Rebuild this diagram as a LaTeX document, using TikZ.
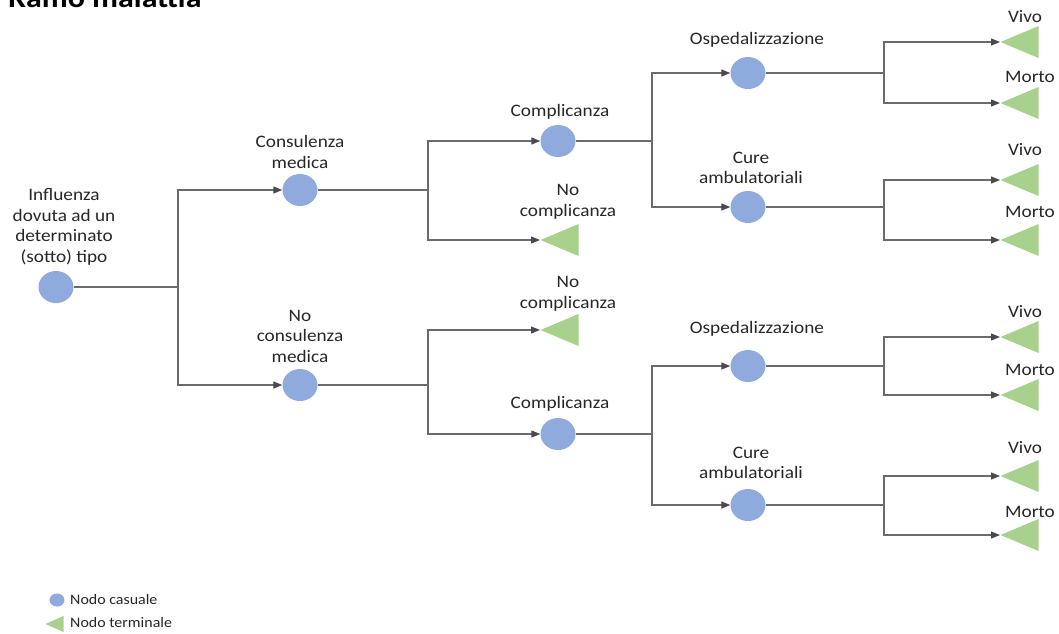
\documentclass[tikz,border=0pt]{standalone}
\usepackage{fontspec}
\setmainfont[FakeStretch=1.1]{Carlito}
\usetikzlibrary{arrows.meta,shapes.geometric}
\definecolor{nodeblue}{HTML}{8FAADC}
\definecolor{nodegreen}{HTML}{A9D18E}
\definecolor{linegray}{HTML}{6A6A6A}
\definecolor{tipgray}{HTML}{4A4A4A}
\definecolor{textgray}{HTML}{262626}

\tikzset{
  chance/.style={ellipse, fill=nodeblue, minimum width=35pt, minimum height=32pt, inner sep=0pt},
  terminal/.style={isosceles triangle, isosceles triangle stretches, shape border rotate=180,
    fill=nodegreen, minimum width=32pt, minimum height=38pt, inner sep=0pt, anchor=apex},
  lbl/.style={align=center, text=textgray, inner sep=0pt, font=\fontsize{17.5}{20.5}\selectfont},
  edge/.style={draw=linegray, line width=1.2pt},
  arr/.style={edge, -{Triangle[length=9pt,width=7pt,color=tipgray]}},
}

\begin{document}
\begin{tikzpicture}[x=1pt, y=-1pt]
    \useasboundingbox (0,0) rectangle (1059,633);
    \node[anchor=base west, text=black, inner sep=0pt, font=\bfseries\fontsize{29}{31}\selectfont] (title) at (8,7) {Ramo malattia};

    % root and first split
    \node[chance] (root) at (56,287) {};
    \node[lbl] (rootlbl) at (64,227) {Influenza\\dovuta ad un\\determinato\\(sotto) tipo};
    \coordinate (j1) at (178,287);
    \node[chance] (cm) at (300,190) {};
    \node[lbl] (cmlbl) at (300,152) {Consulenza\\medica};
    \node[chance] (ncm) at (300,385) {};
    \node[lbl] (ncmlbl) at (300,336) {No\\consulenza\\medica};

    % complications
    \coordinate (j2) at (428,190);
    \node[chance] (c1) at (558,141) {};
    \node[lbl] (c1lbl) at (560,112) {Complicanza};
    \node[terminal] (nc1) at (540,240) {};
    \node[lbl] (nc1lbl) at (568,202) {No\\complicanza};
    \coordinate (j3) at (428,385);
    \node[terminal] (nc2) at (540,330) {};
    \node[lbl] (nc2lbl) at (568,294) {No\\complicanza};
    \node[chance] (c2) at (558,434) {};
    \node[lbl] (c2lbl) at (560,404) {Complicanza};

    % care settings
    \coordinate (j4) at (652,141);
    \node[chance] (os1) at (748,73) {};
    \node[lbl] (os1lbl) at (757,40) {Ospedalizzazione};
    \node[chance] (ca1) at (748,207) {};
    \node[lbl] (ca1lbl) at (751,168) {Cure\\ambulatoriali};
    \coordinate (j5) at (652,434);
    \node[chance] (os2) at (748,366) {};
    \node[lbl] (os2lbl) at (757,329) {Ospedalizzazione};
    \node[chance] (ca2) at (748,505) {};
    \node[lbl] (ca2lbl) at (751,463) {Cure\\ambulatoriali};

    % outcomes
    \coordinate (j6) at (884,73);
    \coordinate (j7) at (884,207);
    \coordinate (j8) at (884,366);
    \coordinate (j9) at (884,505);
    \node[terminal] (v1) at (1000,42) {};
    \node[lbl] (v1lbl) at (1025,17) {Vivo};
    \node[terminal] (m1) at (1000,103) {};
    \node[lbl] (m1lbl) at (1030,77) {Morto};
    \node[terminal] (v2) at (1000,180) {};
    \node[lbl] (v2lbl) at (1025,150) {Vivo};
    \node[terminal] (m2) at (1000,240) {};
    \node[lbl] (m2lbl) at (1030,212) {Morto};
    \node[terminal] (v3) at (1000,337) {};
    \node[lbl] (v3lbl) at (1025,312) {Vivo};
    \node[terminal] (m3) at (1000,395) {};
    \node[lbl] (m3lbl) at (1030,370) {Morto};
    \node[terminal] (v4) at (1000,476) {};
    \node[lbl] (v4lbl) at (1025,448) {Vivo};
    \node[terminal] (m4) at (1000,535) {};
    \node[lbl] (m4lbl) at (1030,512) {Morto};

    \draw[edge] (root) -- (j1);
    \draw[arr] (j1) |- (cm);
    \draw[arr] (j1) |- (ncm);
    \draw[edge] (cm) -- (j2);
    \draw[arr] (j2) |- (c1);
    \draw[arr] (j2) |- (nc1);
    \draw[edge] (ncm) -- (j3);
    \draw[arr] (j3) |- (nc2);
    \draw[arr] (j3) |- (c2);
    \draw[edge] (c1) -- (j4);
    \draw[arr] (j4) |- (os1);
    \draw[arr] (j4) |- (ca1);
    \draw[edge] (c2) -- (j5);
    \draw[arr] (j5) |- (os2);
    \draw[arr] (j5) |- (ca2);
    \draw[edge] (os1) -- (j6);
    \draw[arr] (j6) |- (v1);
    \draw[arr] (j6) |- (m1);
    \draw[edge] (ca1) -- (j7);
    \draw[arr] (j7) |- (v2);
    \draw[arr] (j7) |- (m2);
    \draw[edge] (os2) -- (j8);
    \draw[arr] (j8) |- (v3);
    \draw[arr] (j8) |- (m3);
    \draw[edge] (ca2) -- (j9);
    \draw[arr] (j9) |- (v4);
    \draw[arr] (j9) |- (m4);

    % legend
    \node[chance, minimum width=15pt, minimum height=13pt] (legc) at (57,600) {};
    \node[lbl, anchor=west, font=\fontsize{14.5}{17}\selectfont] (legctxt) at (70,600) {Nodo casuale};
    \node[terminal, minimum width=16pt, minimum height=18pt] (legt) at (45,624) {};
    \node[lbl, anchor=west, font=\fontsize{14.5}{17}\selectfont] (legttxt) at (70,623) {Nodo terminale};
\end{tikzpicture}
\end{document}
